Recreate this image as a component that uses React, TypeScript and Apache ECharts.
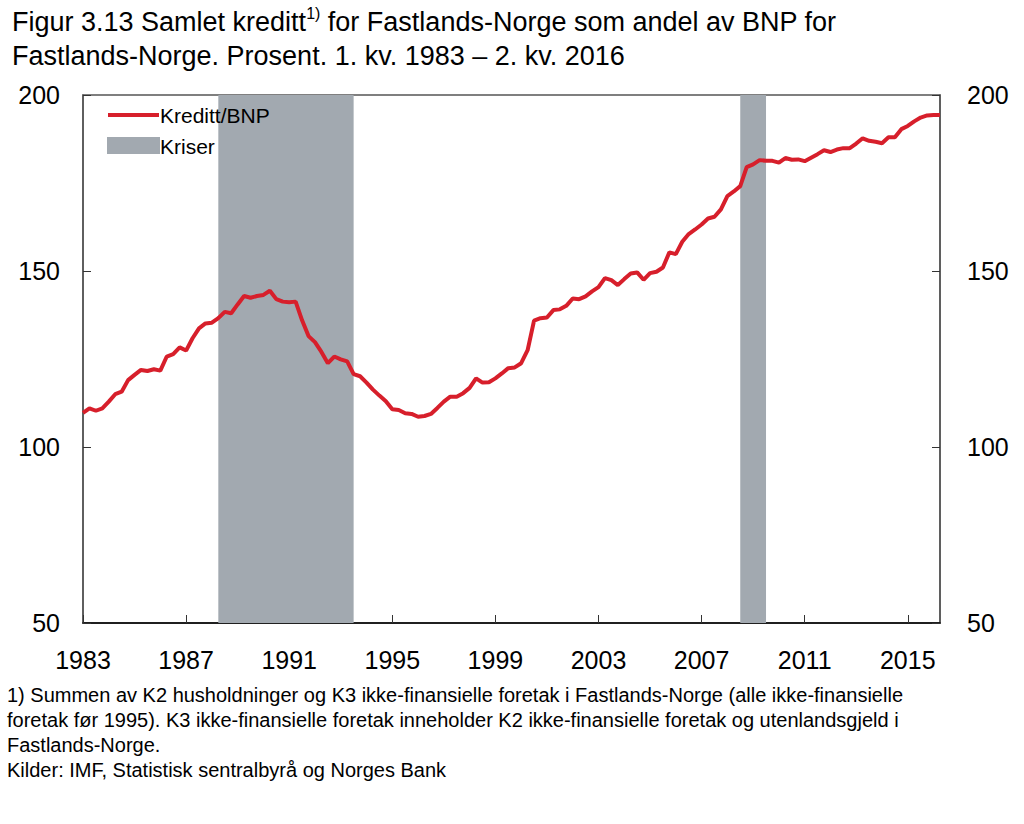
import React, { useEffect, useRef } from "react";
import * as echarts from "echarts";

const FONT = "'Liberation Sans', Arial, Helvetica, sans-serif";

const startYear = 1983;
const endYear = 2016;
const endQuarter = 2;

const quarters: string[] = [];
for (let y = startYear; y <= endYear; y++) {
  for (let q = 1; q <= 4; q++) {
    if (y === endYear && q > endQuarter) break;
    quarters.push(`${y} K${q}`);
  }
}

const kredittBnp: number[] = [
  109.7, 111.0, 110.3, 111.0, 112.9, 115.0, 115.7, 119.0, 120.5, 121.9,
  121.6, 122.1, 121.7, 125.7, 126.4, 128.3, 127.4, 130.9, 133.7, 135.1,
  135.3, 136.6, 138.4, 138.0, 140.5, 142.9, 142.4, 142.9, 143.2, 144.4,
  142.0, 141.3, 141.1, 141.3, 136.0, 131.5, 129.8, 127.0, 123.8, 125.7,
  124.9, 124.3, 120.7, 120.1, 118.3, 116.3, 114.6, 113.0, 110.7, 110.5,
  109.6, 109.4, 108.6, 108.8, 109.4, 111.1, 112.9, 114.3, 114.3, 115.3,
  116.8, 119.5, 118.3, 118.4, 119.5, 120.9, 122.4, 122.6, 123.8, 127.5,
  135.9, 136.6, 136.8, 138.9, 139.1, 140.1, 142.2, 142.0, 142.8, 144.2,
  145.4, 148.0, 147.4, 146.0, 147.7, 149.3, 149.6, 147.5, 149.4, 149.8,
  151.0, 155.3, 154.8, 158.3, 160.5, 161.8, 163.2, 164.9, 165.4, 167.5,
  171.3, 172.6, 174.1, 179.5, 180.3, 181.5, 181.3, 181.3, 180.8, 182.1,
  181.6, 181.7, 181.2, 182.2, 183.2, 184.3, 183.8, 184.5, 184.9, 184.9,
  186.2, 187.7, 187.0, 186.7, 186.3, 188.0, 188.0, 190.3, 191.2, 192.5,
  193.6, 194.2, 194.3, 194.3,
];

// Crisis periods [start quarter, end quarter]
const kriser: [string, string][] = [
  ["1988 K2", "1993 K3"],
  ["2008 K3", "2009 K3"],
];

const yTicks = { min: 50, max: 200, interval: 50 };

const titleLine1a = "Figur 3.13 Samlet kreditt";
const titleSup = "1)";
const titleLine1b = " for Fastlands-Norge som andel av BNP for";
const titleLine2 = "Fastlands-Norge. Prosent. 1. kv. 1983 – 2. kv. 2016";

const footnotes = [
  "1) Summen av K2 husholdninger og K3 ikke-finansielle foretak i Fastlands-Norge (alle ikke-finansielle",
  "foretak før 1995). K3 ikke-finansielle foretak inneholder K2 ikke-finansielle foretak og utenlandsgjeld i",
  "Fastlands-Norge.",
  "Kilder: IMF, Statistisk sentralbyrå og Norges Bank",
];

const legendNames = ["Kreditt/BNP", "Kriser"];

const RED = "#d71f2b";
const GRAY = "#a2a9b0";

export default function App() {
  const ref = useRef<HTMLDivElement>(null);

  useEffect(() => {
    if (!ref.current) return;
    const chart = echarts.init(ref.current, undefined, { renderer: "svg" });

    const yAxisBase = (pos: "left" | "right", margin: number) => ({
      type: "value",
      position: pos,
      min: yTicks.min,
      max: yTicks.max,
      interval: yTicks.interval,
      axisLine: { show: true, lineStyle: { color: "#555", width: 1.5 } },
      axisTick: { show: true, inside: true, length: 8, lineStyle: { color: "#333", width: 1 } },
      axisLabel: { fontSize: 25, color: "#000", margin, fontFamily: FONT },
      splitLine: { show: false },
    });

    chart.setOption({
      animation: false,
      backgroundColor: "#fff",
      textStyle: { fontFamily: FONT },
      title: {
        left: 7,
        top: 0,
        text: `{t|${titleLine1a}}{s|${titleSup}}{t|${titleLine1b}}\n{t|${titleLine2}}`,
        textStyle: {
          fontWeight: "normal",
          rich: {
            t: { fontSize: 27, lineHeight: 34, color: "#000", fontFamily: FONT, fontWeight: "normal" },
            s: { fontSize: 16, lineHeight: 16, verticalAlign: "top", color: "#000", fontFamily: FONT, fontWeight: "normal" },
          },
        },
      },
      grid: {
        left: 83,
        top: 95,
        width: 857,
        height: 528,
        show: true,
        borderColor: "#555",
        borderWidth: 1.5,
        containLabel: false,
      },
      xAxis: {
        type: "category",
        data: quarters,
        boundaryGap: false,
        axisLine: { show: true, lineStyle: { color: "#000", width: 1.5 } },
        axisTick: { show: true, inside: true, length: 8, interval: 15, lineStyle: { color: "#333" } },
        axisLabel: {
          interval: 15,
          fontSize: 25,
          color: "#000",
          margin: 24,
          fontFamily: FONT,
          formatter: (v: string) => v.slice(0, 4),
        },
        splitLine: { show: false },
      },
      yAxis: [yAxisBase("left", 23), yAxisBase("right", 27)],
      series: [
        {
          name: legendNames[0],
          type: "line",
          data: kredittBnp,
          symbol: "none",
          lineStyle: { color: RED, width: 4 },
          itemStyle: { color: RED },
          z: 3,
          markArea: {
            silent: true,
            itemStyle: { color: GRAY, opacity: 1 },
            data: kriser.map(([a, b]) => [{ xAxis: a }, { xAxis: b }]),
          },
        },
      ],
      graphic: [
        {
          type: "line",
          shape: { x1: 108, y1: 115, x2: 159, y2: 115 },
          style: { stroke: RED, lineWidth: 4 },
          z: 10,
        },
        {
          type: "rect",
          shape: { x: 107, y: 137, width: 53, height: 17 },
          style: { fill: GRAY },
          z: 10,
        },
        {
          type: "text",
          x: 160,
          y: 115,
          style: { text: legendNames[0], fontSize: 21, fill: "#000", fontFamily: FONT, verticalAlign: "middle" },
          z: 10,
        },
        {
          type: "text",
          x: 160,
          y: 146,
          style: { text: legendNames[1], fontSize: 21, fill: "#000", fontFamily: FONT, verticalAlign: "middle" },
          z: 10,
        },
        ...footnotes.map((t, i) => ({
          type: "text",
          x: 7,
          y: 695 + i * 25,
          style: { text: t, fontSize: 20, fill: "#000", fontFamily: FONT, verticalAlign: "middle" },
        })),
      ],
    });

    return () => chart.dispose();
  }, []);

  return (
    <div
      ref={ref}
      style={{ position: "absolute", left: 0, top: 0, width: 1024, height: 824 }}
    />
  );
}
